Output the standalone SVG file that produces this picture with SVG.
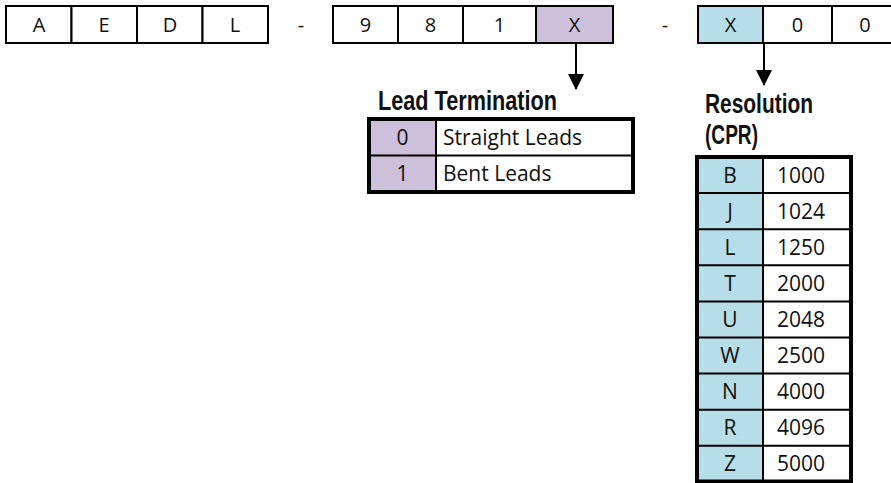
<svg xmlns="http://www.w3.org/2000/svg" width="891" height="483" viewBox="0 0 891 483">
<style>
.cell{fill:#fff;stroke:#000;stroke-width:2}
.p{fill:#ccc0da}
.b{fill:#b7dee8}
.t{font-family:"Open Sans","Noto Sans",sans-serif;font-size:20px;fill:#111}
.tt{font-size:21px}
.c{text-anchor:middle}
.h{font-family:"Liberation Sans",Arial,sans-serif;font-weight:bold;font-size:27px;fill:#111}
.ln{stroke:#000;stroke-width:2;fill:none}
.ob{stroke:#000;stroke-width:4;fill:none}
</style>
<defs>
<marker id="ah" viewBox="0 0 16 16" refX="15" refY="8" markerWidth="16" markerHeight="16" markerUnits="userSpaceOnUse" orient="auto">
<path d="M0,0 L16,8 L0,16 Z" fill="#000"/>
</marker>
</defs>

<g id="part-number">
<rect class="cell" x="6" y="6" width="65.5" height="37"/>
<rect class="cell" x="71.5" y="6" width="65.5" height="37"/>
<rect class="cell" x="137" y="6" width="65.5" height="37"/>
<rect class="cell" x="202.5" y="6" width="65.5" height="37"/>
<text class="t c" x="39" y="32">A</text>
<text class="t c" x="104" y="32">E</text>
<text class="t c" x="170" y="32">D</text>
<text class="t c" x="235" y="32">L</text>
<text class="t c" x="301" y="32">-</text>
<rect class="cell" x="333" y="6" width="65" height="37"/>
<rect class="cell" x="398" y="6" width="65" height="37"/>
<rect class="cell" x="463" y="6" width="73" height="37"/>
<rect class="cell p" x="536" y="6" width="77" height="37"/>
<text class="t c" x="365.5" y="32">9</text>
<text class="t c" x="430.5" y="32">8</text>
<text class="t c" x="499.5" y="32">1</text>
<text class="t c" x="574.5" y="32">X</text>
<text class="t c" x="665" y="32">-</text>
<rect class="cell b" x="698" y="6" width="65" height="37"/>
<rect class="cell" x="763" y="6" width="69" height="37"/>
<rect class="cell" x="832" y="6" width="66" height="37"/>
<text class="t c" x="730.5" y="32">X</text>
<text class="t c" x="797.5" y="32">0</text>
<text class="t c" x="865" y="32">0</text>
</g>

<g id="connectors">
<line class="ln" x1="576" y1="44" x2="576" y2="89" marker-end="url(#ah)"/>
<line class="ln" x1="764" y1="44" x2="764" y2="85" marker-end="url(#ah)"/>
</g>

<g id="lead-termination">
<text class="h" x="378" y="110" textLength="179" lengthAdjust="spacingAndGlyphs">Lead Termination</text>
<rect class="p" x="369" y="119" width="67" height="73"/>
<rect x="436" y="119" width="197" height="73" fill="#fff"/>
<line class="ln" x1="369" y1="155.5" x2="633" y2="155.5"/>
<line class="ln" x1="436" y1="119" x2="436" y2="192"/>
<rect class="ob" x="369" y="119" width="264" height="73"/>
<g class="t tt">
<text class="c" x="402.5" y="145">0</text>
<text x="443" y="145">Straight Leads</text>
<text class="c" x="402.5" y="181">1</text>
<text x="443" y="181">Bent Leads</text>
</g>
</g>

<g id="resolution">
<text class="h" x="705" y="113" textLength="108" lengthAdjust="spacingAndGlyphs">Resolution</text>
<text class="h" x="705" y="144" textLength="53" lengthAdjust="spacingAndGlyphs">(CPR)</text>
<rect class="b" x="697" y="157" width="66" height="325"/>
<rect x="763" y="157" width="88" height="325" fill="#fff"/>
<g class="ln">
<line x1="697" y1="193.1" x2="851" y2="193.1"/>
<line x1="697" y1="229.2" x2="851" y2="229.2"/>
<line x1="697" y1="265.3" x2="851" y2="265.3"/>
<line x1="697" y1="301.4" x2="851" y2="301.4"/>
<line x1="697" y1="337.5" x2="851" y2="337.5"/>
<line x1="697" y1="373.6" x2="851" y2="373.6"/>
<line x1="697" y1="409.7" x2="851" y2="409.7"/>
<line x1="697" y1="445.8" x2="851" y2="445.8"/>
<line x1="763" y1="157" x2="763" y2="482"/>
</g>
<rect class="ob" x="697" y="157" width="154" height="324.5"/>
<g class="t tt">
<text class="c" x="730" y="183">B</text><text x="777" y="183">1000</text>
<text class="c" x="730" y="219">J</text><text x="777" y="219">1024</text>
<text class="c" x="730" y="255">L</text><text x="777" y="255">1250</text>
<text class="c" x="730" y="291">T</text><text x="777" y="291">2000</text>
<text class="c" x="730" y="327">U</text><text x="777" y="327">2048</text>
<text class="c" x="730" y="363">W</text><text x="777" y="363">2500</text>
<text class="c" x="730" y="399">N</text><text x="777" y="399">4000</text>
<text class="c" x="730" y="435">R</text><text x="777" y="435">4096</text>
<text class="c" x="730" y="471">Z</text><text x="777" y="471">5000</text>
</g>
</g>
</svg>
